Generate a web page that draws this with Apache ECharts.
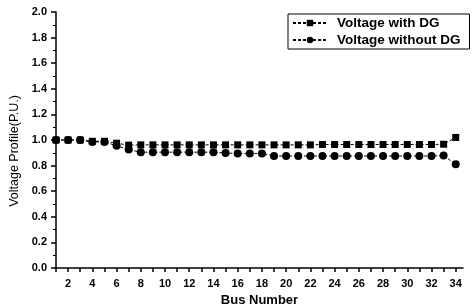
<!DOCTYPE html>
<html>
<head>
<meta charset="utf-8">
<script src="https://cdn.jsdelivr.net/npm/echarts@6/dist/echarts.min.js"></script>
<style>
  html, body { margin: 0; padding: 0; background: #fff; }
  #chart { width: 474px; height: 308px; }
</style>
</head>
<body>
<div id="chart"></div>
<script>
var busNumbers = [1, 2, 3, 4, 5, 6, 7, 8, 9, 10, 11, 12, 13, 14, 15, 16, 17,
  18, 19, 20, 21, 22, 23, 24, 25, 26, 27, 28, 29, 30, 31, 32, 33, 34];
var withDG = [1.0, 1.0, 1.0, 0.99, 0.99, 0.975, 0.96, 0.962, 0.962, 0.962, 0.962, 0.962,
  0.962, 0.962, 0.962, 0.962, 0.962, 0.962, 0.962, 0.962, 0.962, 0.962, 0.965, 0.965,
  0.965, 0.965, 0.965, 0.965, 0.965, 0.965, 0.965, 0.965, 0.967, 1.02];
var withoutDG = [1.0, 1.0, 1.0, 0.985, 0.985, 0.955, 0.925, 0.905, 0.905, 0.905, 0.905, 0.905,
  0.905, 0.905, 0.898, 0.895, 0.895, 0.895, 0.875, 0.875, 0.875, 0.875, 0.875, 0.875,
  0.875, 0.875, 0.875, 0.875, 0.875, 0.875, 0.875, 0.875, 0.878, 0.81];
var seriesNames = ['Voltage with DG', 'Voltage without DG'];

function pairs(xs, ys) {
  return xs.map(function (x, i) { return [x, ys[i]]; });
}

var font = 'Liberation Sans, Arial, sans-serif';
var chart = echarts.init(document.getElementById('chart'));

chart.setOption({
  animation: false,
  backgroundColor: '#fff',
  grid: { left: 56, right: 11, top: 12, bottom: 40, outerBoundsMode: 'none' },
  legend: {
    left: 288, top: 14,
    orient: 'vertical',
    data: seriesNames,
    backgroundColor: '#fff',
    borderColor: '#000', borderWidth: 1,
    padding: [2, 9, 2, 4],
    itemGap: 3,
    itemWidth: 34, itemHeight: 8,
    textStyle: { fontFamily: font, fontWeight: 'bold', fontSize: 13.5, color: '#000', padding: [0, 0, 0, 5] }
  },
  xAxis: {
    type: 'value',
    min: 1, max: 34.6, interval: 1,
    name: 'Bus Number',
    nameLocation: 'middle', nameGap: 26,
    nameTextStyle: { fontFamily: font, fontWeight: 'bold', fontSize: 13, color: '#000' },
    axisLine: { lineStyle: { color: '#000', width: 1.5 } },
    axisTick: { show: true, length: 4, lineStyle: { color: '#000', width: 1.5 } },
    axisLabel: {
      fontFamily: font, fontWeight: 'bold', fontSize: 11, color: '#000', margin: 10,
      showMaxLabel: false, showMinLabel: true,
      formatter: function (v) { return (v % 2 === 0) ? String(v) : ''; }
    },
    splitLine: { show: false }
  },
  yAxis: {
    type: 'value',
    min: 0, max: 2, interval: 0.2,
    name: 'Voltage Profile(P.U.)',
    nameLocation: 'middle', nameGap: 35,
    nameTextStyle: { fontFamily: font, fontSize: 12.5, color: '#000', padding: [0, 22, 0, 0] },
    axisLine: { show: true, lineStyle: { color: '#000', width: 1.5 } },
    axisTick: { show: true, length: 5, lineStyle: { color: '#000', width: 1.5 } },
    minorTick: { show: true, splitNumber: 2, length: 3, lineStyle: { color: '#000', width: 1 } },
    axisLabel: {
      fontFamily: font, fontWeight: 'bold', fontSize: 11, color: '#000', margin: 9,
      formatter: function (v) { return v.toFixed(1); }
    },
    splitLine: { show: false }
  },
  series: [
    {
      name: seriesNames[0],
      type: 'line',
      data: pairs(busNumbers, withDG),
      symbol: 'rect', symbolSize: 7,
      itemStyle: { color: '#000' },
      lineStyle: { color: '#000', width: 1, type: [3, 2] }
    },
    {
      name: seriesNames[1],
      type: 'line',
      data: pairs(busNumbers, withoutDG),
      symbol: 'circle', symbolSize: 8,
      itemStyle: { color: '#000' },
      lineStyle: { color: '#000', width: 1, type: [3, 2] }
    }
  ]
});
</script>
</body>
</html>
